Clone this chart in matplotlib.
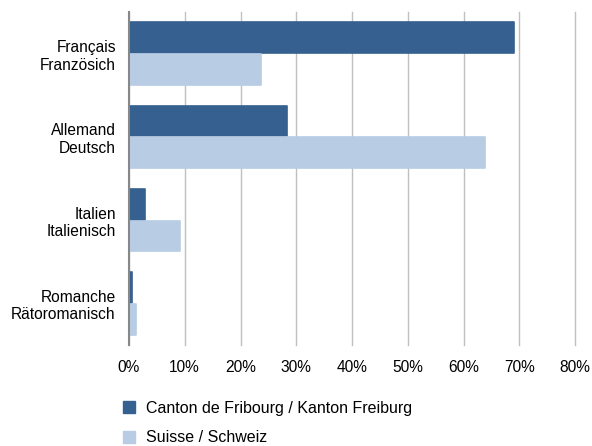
import numpy as np
import matplotlib.pyplot as plt
from matplotlib.lines import Line2D

plt.rcParams['font.family'] = ['Liberation Sans', 'DejaVu Sans']

# data
categories = ['Français\nFranzösich', 'Allemand\nDeutsch', 'Italien\nItalienisch', 'Romanche\nRätoromanisch']
fribourg = [69.1, 28.3, 2.9, 0.5]
suisse = [23.6, 63.9, 9.1, 1.2]
series_labels = ['Canton de Fribourg / Kanton Freiburg', 'Suisse / Schweiz']
xticks = [0, 10, 20, 30, 40, 50, 60, 70, 80]

dark = '#36608f'
light = '#b8cce4'
fs = 11.2

fig = plt.figure(figsize=(5.92, 4.46), dpi=100)
ax = fig.add_axes([129 / 592, 1 - 345 / 446, 446 / 592, 333 / 446])

y = np.arange(len(categories))
h = 0.37
ax.barh(y - h / 2 - 0.005, fribourg, height=h, color=dark, edgecolor=dark,
        linewidth=1.2, joinstyle='round', zorder=3)
ax.barh(y + h / 2 + 0.005, suisse, height=h, color=light, edgecolor=light,
        linewidth=1.2, joinstyle='round', zorder=3)

ax.set_xlim(0, 80)
ax.set_ylim(len(categories) - 0.5, -0.5)
ax.set_xticks(xticks)
ax.set_xticklabels([f'{t}%' for t in xticks])
ax.set_yticks(y)
ax.set_yticklabels(categories, multialignment='right')
ax.tick_params(axis='both', length=0, labelsize=fs, colors='#000000')
ax.tick_params(axis='x', pad=11)
ax.tick_params(axis='y', pad=9.5)

ax.grid(axis='x', color='#c0c0c0', linewidth=1.0, zorder=0)
for gl in ax.get_xgridlines():
    gl.set_clip_on(False)
ax.set_axisbelow(True)
for s in ['top', 'right', 'bottom']:
    ax.spines[s].set_visible(False)
ax.spines['left'].set_color('#888888')
ax.spines['left'].set_linewidth(1.5)
ax.spines['left'].set_zorder(4)

handles = [Line2D([], [], marker='s', linestyle='none', markersize=8.6,
                  markerfacecolor=c, markeredgecolor=c) for c in (dark, light)]
fig.legend(handles, series_labels, loc='upper left',
           bbox_to_anchor=(120 / 592, 1 - 401 / 446), frameon=False,
           fontsize=11.5, labelspacing=0.9, handletextpad=0.5,
           handlelength=1.1, borderaxespad=0, borderpad=0)

fig.savefig('out.png', dpi=100)
